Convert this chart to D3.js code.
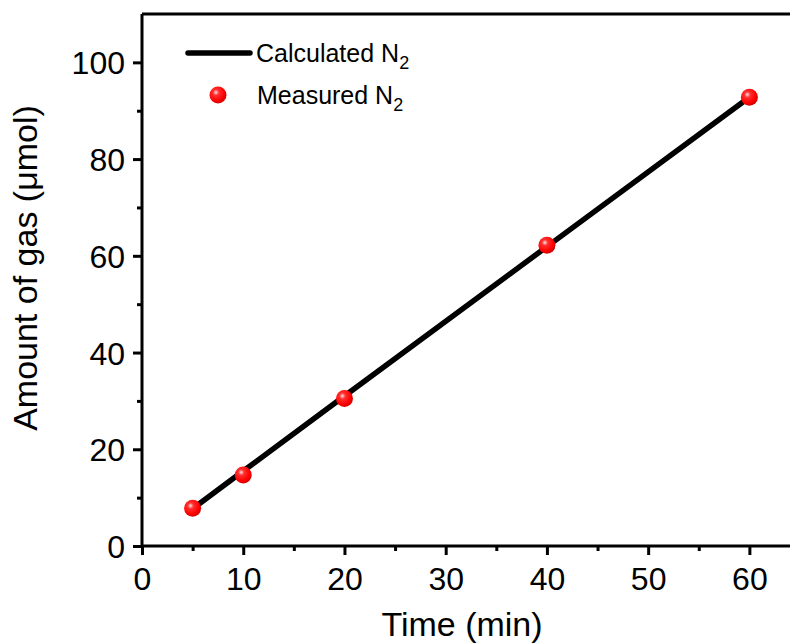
<!DOCTYPE html>
<html><head><meta charset="utf-8">
<script src="https://cdn.jsdelivr.net/npm/d3@7/dist/d3.min.js"></script>
<style>body{margin:0;background:#fff}svg{display:block}text{font-family:"Liberation Sans",Arial,sans-serif;fill:#000}</style>
</head><body><svg id="c" width="790" height="643"></svg>
<script>
const timeMin = [5, 10, 20, 40, 60];
const measuredN2 = [7.8, 14.7, 30.5, 62.2, 92.8];
const calculatedN2 = [7.7, 15.5, 31.0, 61.9, 92.8];
const xTicks = [0, 10, 20, 30, 40, 50, 60];
const yTicks = [0, 20, 40, 60, 80, 100];

const svg = d3.select("#c");
const L = 142, R = 800, T = 14, B = 546;
const x = d3.scaleLinear().domain([0, 65]).range([L, R]);
const y = d3.scaleLinear().domain([0, 110]).range([B, T]);
const FF = "Liberation Sans, Arial, sans-serif";

const defs = svg.append("defs");
const g = defs.append("radialGradient").attr("id","ball").attr("cx","0.38").attr("cy","0.35").attr("r","0.7");
g.append("stop").attr("offset","0").attr("stop-color","#ffe0e0");
g.append("stop").attr("offset","0.25").attr("stop-color","#ff3030");
g.append("stop").attr("offset","0.7").attr("stop-color","#ff0000");
g.append("stop").attr("offset","1").attr("stop-color","#c80000");

// frame top
svg.append("line").attr("x1",L).attr("x2",R).attr("y1",T).attr("y2",T).attr("stroke","#000").attr("stroke-width",3);

// x axis
const xAxis = svg.append("g").attr("transform",`translate(0,${B})`)
  .call(d3.axisBottom(x).tickValues(xTicks).tickSize(9).tickFormat(d3.format("d")));
svg.append("g").attr("transform",`translate(0,${B})`)
  .call(d3.axisBottom(x).tickValues(d3.range(5,65,10)).tickSize(5).tickFormat(""))
  .call(a=>a.select(".domain").remove());
// y axis
const yAxis = svg.append("g").attr("transform",`translate(${L},0)`)
  .call(d3.axisLeft(y).tickValues(yTicks).tickSize(9).tickFormat(d3.format("d")));
svg.append("g").attr("transform",`translate(${L},0)`)
  .call(d3.axisLeft(y).tickValues(d3.range(10,110,20)).tickSize(5).tickFormat(""))
  .call(a=>a.select(".domain").remove());

svg.selectAll(".domain").attr("stroke","#000").attr("stroke-width",3);
svg.selectAll(".tick line").attr("stroke","#000").attr("stroke-width",3);
xAxis.selectAll(".domain").attr("d",`M${L},0H${R}`);
yAxis.selectAll(".domain").attr("d",`M0,${B+1.5}V${T}`);
xAxis.selectAll(".tick text").attr("font-size",32).attr("y",44).attr("dy",null).attr("font-family",FF);
yAxis.selectAll(".tick text").attr("font-size",32).attr("x",-17).attr("dy","0.36em").attr("font-family",FF);

// calculated line
svg.append("path").datum(timeMin.map((t,i)=>[t,calculatedN2[i]]))
  .attr("d", d3.line().x(d=>x(d[0])).y(d=>y(d[1])))
  .attr("fill","none").attr("stroke","#000").attr("stroke-width",5.5).attr("stroke-linecap","round");

// measured points
svg.selectAll("circle.m").data(timeMin.map((t,i)=>[t,measuredN2[i]])).enter().append("circle")
  .attr("class","m").attr("cx",d=>x(d[0])).attr("cy",d=>y(d[1])).attr("r",8.5).attr("fill","url(#ball)");

// axis titles
svg.append("text").attr("x",462).attr("y",636).attr("text-anchor","middle").attr("font-size",34).text("Time (min)");
svg.append("text").attr("transform",`translate(37,268) rotate(-90)`).attr("text-anchor","middle").attr("font-size",34).text("Amount of gas (μmol)");

// legend
svg.append("line").attr("x1",188).attr("x2",250).attr("y1",53).attr("y2",53).attr("stroke","#000").attr("stroke-width",5.5).attr("stroke-linecap","round");
const t1 = svg.append("text").attr("x",256).attr("y",62).attr("font-size",25);
t1.append("tspan").text("Calculated N");
t1.append("tspan").attr("font-size",18).attr("dy",7).text("2");
svg.append("circle").attr("cx",218).attr("cy",95).attr("r",8.5).attr("fill","url(#ball)");
const t2 = svg.append("text").attr("x",257).attr("y",104).attr("font-size",25);
t2.append("tspan").text("Measured N");
t2.append("tspan").attr("font-size",18).attr("dy",7).text("2");
</script></body></html>
